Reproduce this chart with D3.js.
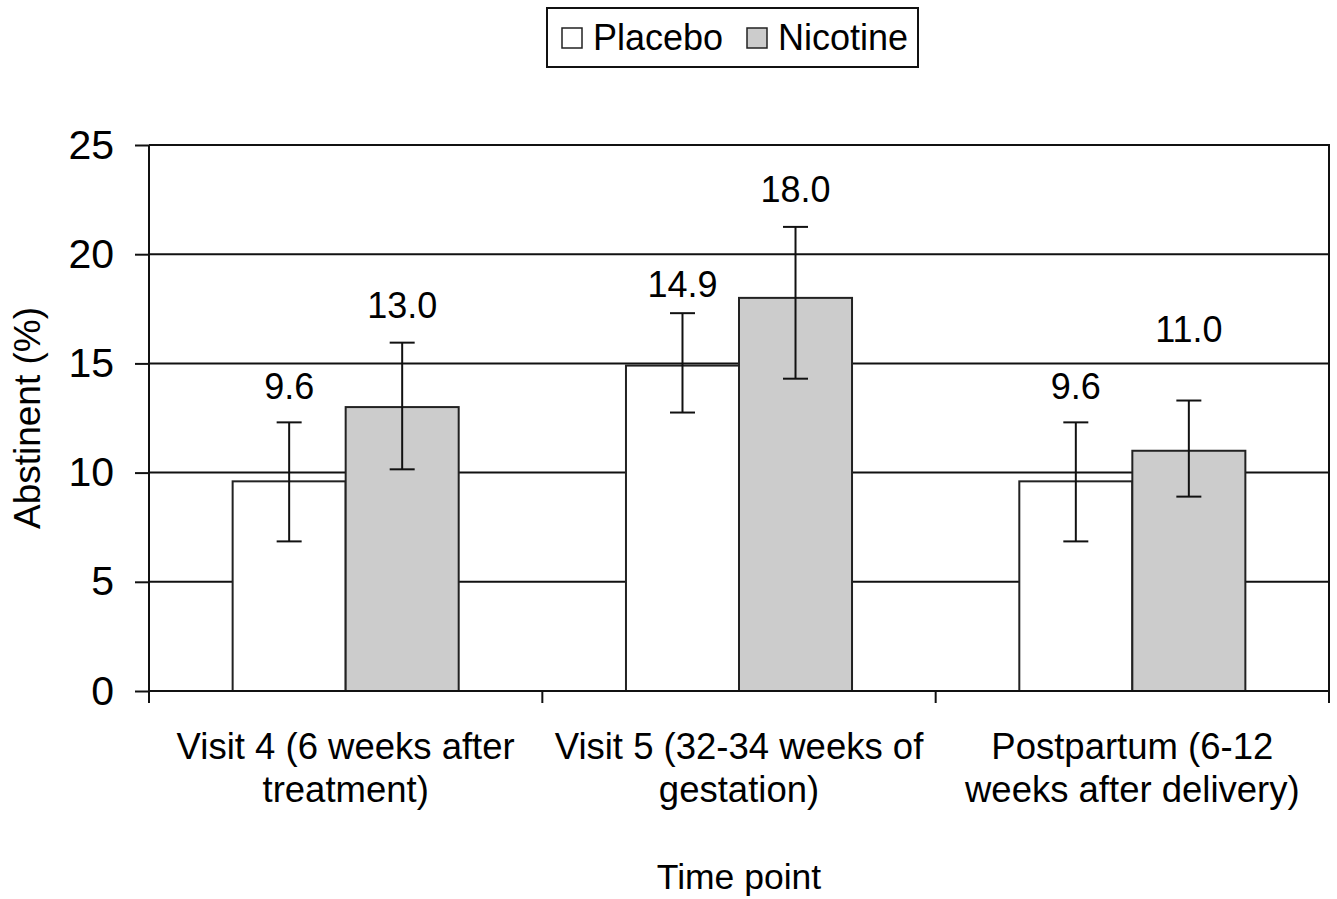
<!DOCTYPE html>
<html>
<head>
<meta charset="utf-8">
<script src="https://cdn.jsdelivr.net/npm/d3@7"></script>
<style>
  body { margin: 0; background: #fff; }
  text { font-family: "Liberation Sans", Arial, sans-serif; fill: #000; }
</style>
</head>
<body>
<div class="chart"></div>
<script>
// data
var timePoints = [
  ["Visit 4 (6 weeks after", "treatment)"],
  ["Visit 5 (32-34 weeks of", "gestation)"],
  ["Postpartum (6-12", "weeks after delivery)"]
];
var seriesNames = ["Placebo", "Nicotine"];
var placebo = [9.6, 14.9, 9.6];
var nicotine = [13.0, 18.0, 11.0];
var placeboLow = [6.85, 12.75, 6.85];
var placeboHigh = [12.3, 17.3, 12.3];
var nicotineLow = [10.15, 14.3, 8.9];
var nicotineHigh = [15.95, 21.25, 13.3];
var yTicks = [0, 5, 10, 15, 20, 25];

// how far above the upper whisker each value label sits (px), [group][series]
var labelLift = [[36, 38], [29, 38], [36, 71]];

var svgWidth = 1337;
var svgHeight = 899;
var margin = { top: 145, right: 8, bottom: 208, left: 149 };
var width = svgWidth - margin.left - margin.right;
var height = svgHeight - margin.top - margin.bottom;

var fills = ["#ffffff", "#cccccc"];

var svg = d3.select(".chart")
  .append("svg")
  .attr("width", svgWidth)
  .attr("height", svgHeight);

var chartGroup = svg.append("g")
  .attr("transform", `translate(${margin.left}, ${margin.top})`);

var x0 = d3.scaleBand()
  .domain(d3.range(timePoints.length))
  .range([0, width])
  .padding(0);

var x1 = d3.scaleBand()
  .domain(seriesNames)
  .range([0, x0.bandwidth()])
  .paddingInner(0)
  .paddingOuter(0.74);

var y = d3.scaleLinear()
  .domain([0, 25])
  .range([height, 0]);

// gridlines (behind bars)
chartGroup.append("g")
  .selectAll("line")
  .data(yTicks.filter(d => d > 0 && d < 25))
  .enter()
  .append("line")
  .attr("x1", 0)
  .attr("x2", width)
  .attr("y1", d => y(d))
  .attr("y2", d => y(d))
  .attr("stroke", "#111")
  .attr("stroke-width", 2);

// plot border top/right
chartGroup.append("path")
  .attr("d", `M0,${y(25)}H${width}V${height}`)
  .attr("fill", "none")
  .attr("stroke", "#111")
  .attr("stroke-width", 2);

var rows = seriesNames.map(function(name, s) {
  var vals = s === 0 ? placebo : nicotine;
  var lo = s === 0 ? placeboLow : nicotineLow;
  var hi = s === 0 ? placeboHigh : nicotineHigh;
  return vals.map(function(v, i) {
    return { series: name, s: s, i: i, value: v, low: lo[i], high: hi[i] };
  });
});
var flat = rows[0].concat(rows[1]);

chartGroup.append("g")
  .selectAll("rect")
  .data(flat)
  .enter()
  .append("rect")
  .attr("x", d => x0(d.i) + x1(d.series))
  .attr("y", d => y(d.value))
  .attr("width", x1.bandwidth())
  .attr("height", d => height - y(d.value))
  .attr("fill", d => fills[d.s])
  .attr("stroke", "#222")
  .attr("stroke-width", 2);

// error bars
var errs = chartGroup.append("g")
  .selectAll("g")
  .data(flat)
  .enter()
  .append("g")
  .attr("transform", d => `translate(${x0(d.i) + x1(d.series) + x1.bandwidth() / 2},0)`);

errs.append("line")
  .attr("y1", d => y(d.low))
  .attr("y2", d => y(d.high))
  .attr("stroke", "#111")
  .attr("stroke-width", 2);

errs.selectAll(".cap")
  .data(d => [d.low, d.high])
  .enter()
  .append("line")
  .attr("x1", -12.5)
  .attr("x2", 12.5)
  .attr("y1", d => y(d))
  .attr("y2", d => y(d))
  .attr("stroke", "#111")
  .attr("stroke-width", 2);

// value labels
errs.append("text")
  .attr("y", d => y(d.high) - labelLift[d.i][d.s])
  .attr("dy", "0.36em")
  .attr("text-anchor", "middle")
  .style("font-size", "36px")
  .text(d => d3.format(".1f")(d.value));

// y axis
var leftAxis = d3.axisLeft(y)
  .tickValues(yTicks)
  .tickSize(14)
  .tickPadding(21)
  .tickFormat(d3.format("d"));

var yAxisG = chartGroup.append("g").call(leftAxis);
yAxisG.select(".domain").attr("d", `M0,${height}V0`).attr("stroke", "#111").attr("stroke-width", 2);
yAxisG.selectAll(".tick line").attr("stroke", "#111").attr("stroke-width", 2);
yAxisG.selectAll(".tick text")
  .style("font-size", "41px")
  .style("font-family", "Liberation Sans, Arial, sans-serif")
  .attr("fill", "#000");

// x axis: baseline and ticks at group boundaries
var xAxisG = chartGroup.append("g").attr("transform", `translate(0, ${height})`);
xAxisG.append("line")
  .attr("x1", 0).attr("x2", width)
  .attr("stroke", "#111").attr("stroke-width", 2);
xAxisG.selectAll(".bound")
  .data(d3.range(timePoints.length + 1))
  .enter()
  .append("line")
  .attr("x1", d => d < timePoints.length ? x0(d) : width)
  .attr("x2", d => d < timePoints.length ? x0(d) : width)
  .attr("y1", 0)
  .attr("y2", 12)
  .attr("stroke", "#111").attr("stroke-width", 2);

var catText = xAxisG.selectAll(".cat")
  .data(timePoints)
  .enter()
  .append("text")
  .attr("text-anchor", "middle")
  .style("font-size", "36.5px");

catText.selectAll("tspan")
  .data((d, i) => d.map(t => ({ t: t, i: i })))
  .enter()
  .append("tspan")
  .attr("x", d => x0(d.i) + x0.bandwidth() / 2)
  .attr("y", (d, k) => 68 + k * 43)
  .text(d => d.t);

// axis titles
chartGroup.append("text")
  .attr("transform", "rotate(-90)")
  .attr("x", 0 - height / 2)
  .attr("y", -margin.left + 40)
  .attr("text-anchor", "middle")
  .style("font-size", "37px")
  .text("Abstinent (%)");

chartGroup.append("text")
  .attr("x", width / 2)
  .attr("y", height + 198)
  .attr("text-anchor", "middle")
  .style("font-size", "35.5px")
  .text("Time point");

// legend
var legend = svg.append("g").attr("transform", "translate(547, 8)");
legend.append("rect")
  .attr("width", 371).attr("height", 59)
  .attr("fill", "#fff").attr("stroke", "#111").attr("stroke-width", 2);

var legendX = [15, 200];
var items = legend.selectAll(".item")
  .data(seriesNames)
  .enter()
  .append("g")
  .attr("transform", (d, i) => `translate(${legendX[i]}, 0)`);

items.append("rect")
  .attr("y", 20).attr("width", 20).attr("height", 20)
  .attr("fill", (d, i) => fills[i])
  .attr("stroke", "#222").attr("stroke-width", 1.5);

items.append("text")
  .attr("x", 31).attr("y", 42)
  .style("font-size", "36px")
  .text(d => d);
</script>
</body>
</html>
